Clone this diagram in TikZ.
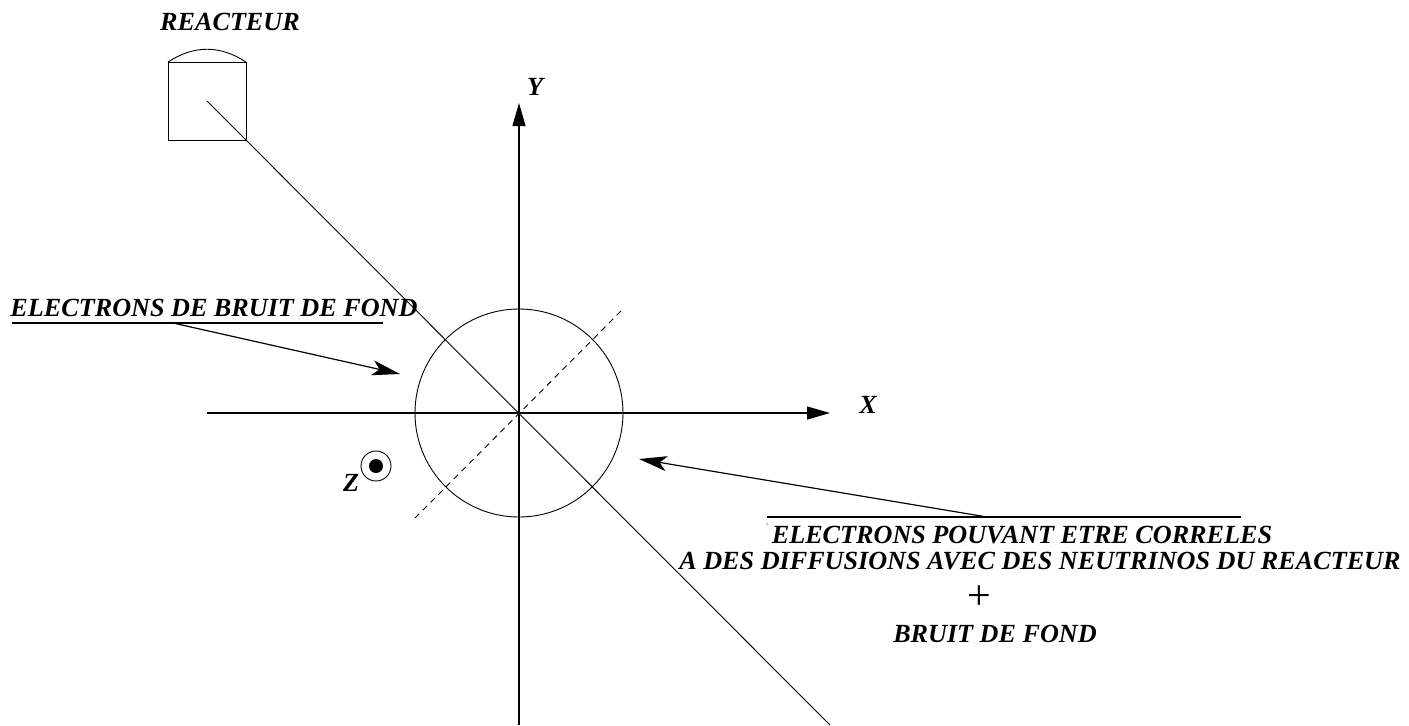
\documentclass[tikz,border=0pt]{standalone}
\usepackage{fontspec}
\setmainfont{Liberation Serif}
\usetikzlibrary{arrows.meta}
\tikzset{
  lbl/.style={font=\bfseries\itshape\fontsize{13.08}{15}\selectfont, inner sep=0pt},
  axe/.style={line width=0.55pt, -{Triangle[length=11.5pt,width=6.5pt]}},
  fleche/.style={line width=0.6pt, -{Stealth[length=14pt,width=7.5pt,inset=3.5pt]}},
  trait/.style={line width=0.45pt}
}
\begin{document}
\begin{tikzpicture}[x=0.5pt, y=-0.5pt]
  \useasboundingbox (0,0) rectangle (1409,725);
  \coordinate (o) at (519,413);
  \coordinate (xa) at (207,413);
  \coordinate (xb) at (830,413);
  \coordinate (ya) at (519,725);
  \coordinate (yb) at (519,103);
  \coordinate (da) at (207,101);
  \coordinate (db) at (830,725);
  \coordinate (pa) at (415,518);
  \coordinate (pb) at (624,308);
  \coordinate (ra) at (168,62);
  \coordinate (rb) at (246,62);
  \coordinate (rc) at (246,140);
  \coordinate (rd) at (168,140);
  \coordinate (ua) at (12,323);
  \coordinate (ub) at (383,323);
  \coordinate (uc) at (173,323);
  \coordinate (ud) at (400,374);
  \coordinate (va) at (767,517);
  \coordinate (vb) at (1241,517);
  \coordinate (vc) at (987,517);
  \coordinate (vd) at (639,459);
  \coordinate (zc) at (376,466);

  \draw[trait] (o) circle[radius=104];
  \draw[axe] (xa) -- (xb);
  \draw[axe] (ya) -- (yb);
  \draw[trait] (da) -- (db);
  \draw[trait, dashed, dash pattern=on 3pt off 2.5pt] (pa) -- (pb);
  \draw[trait] (ra) -- (rb) -- (rc) -- (rd) -- cycle;
  \draw[trait] (ra) .. controls (194,45) and (220,45) .. (rb);

  \draw[trait] (zc) circle[radius=15];
  \fill (zc) circle[radius=7];

  \draw[line width=0.6pt] (ua) -- (ub);
  \draw[fleche] (uc) -- (ud);
  \draw[line width=0.6pt] (va) -- (vb);
  \draw[fleche] (vc) -- (vd);
  \fill (767,524) circle[radius=0.7];

  \node[lbl] (reacteur) at (230,22) {REACTEUR};
  \node[lbl] (laby) at (535,87) {Y};
  \node[lbl] (labx) at (868,405) {X};
  \node[lbl] (labz) at (351,483) {Z};
  \node[lbl] (bruit) at (214,307.5) {ELECTRONS DE BRUIT DE FOND};
  \node[lbl] (corr) at (1022,535.5) {ELECTRONS POUVANT ETRE CORRELES};
  \node[lbl] (diff) at (1040,561.5) {A DES DIFFUSIONS AVEC DES NEUTRINOS DU REACTEUR};
  \node[font=\fontsize{21}{21}\selectfont, inner sep=0pt] (plus) at (979,598) {+};
  \node[lbl] (fond) at (995,634) {BRUIT DE FOND};
\end{tikzpicture}
\end{document}
